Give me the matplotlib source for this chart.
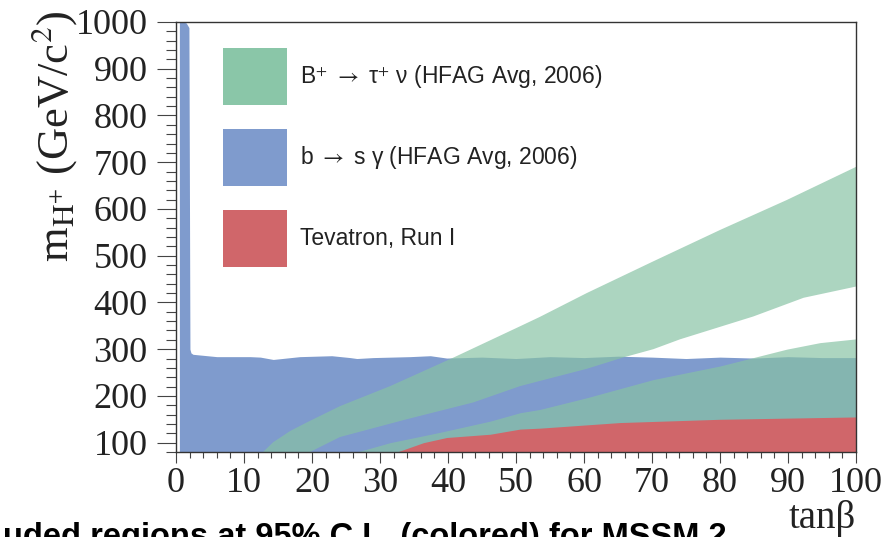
import numpy as np
import matplotlib
matplotlib.use("Agg")
import matplotlib.pyplot as plt
from matplotlib.patches import Patch
from matplotlib.ticker import MultipleLocator

plt.rcParams["mathtext.fontset"] = "stix"

# b -> s gamma excluded region, upper edge (everything below is excluded)
bsg_tb = [0.5, 1.0, 1.5, 1.9, 2.05, 2.2, 2.5, 6.0, 10.9, 12.4, 14.3, 18.2, 22.9, 25.6, 26.6,
          29.0, 34.4, 37.4, 39.8, 45, 50, 55, 60, 65, 70, 75, 80, 85, 90, 95, 100]
bsg_m = [1000, 1000, 998, 988, 300, 292, 289, 284, 284, 283, 278, 284, 286, 282, 280,
         282, 284, 286, 281, 283, 280, 284, 282, 285, 283, 280, 283, 281, 284, 282, 282]

# B+ -> tau nu, upper excluded band: upper edge A, lower edge B
taunu_a_tb = [12.8, 14.3, 16.8, 19.2, 24.1, 31.5, 40.8, 50.6, 53.5, 60.4, 70.2, 80, 89.8, 100]
taunu_a_m = [80, 101, 125, 143, 178, 221, 282, 349, 369, 420, 488, 555, 619, 690]
taunu_b_tb = [19.7, 24.1, 33.9, 43.7, 50.6, 53.5, 60.4, 65.7, 70.2, 74.1, 84.9, 92.3, 100]
taunu_b_m = [80, 112, 150, 186, 221, 232, 258, 282, 300, 321, 370, 410, 434]

# B+ -> tau nu, lower excluded band (below edge C)
taunu_c_tb = [26.6, 31.5, 38.8, 46.2, 50.6, 53.5, 60.4, 70.2, 80, 84.9, 89.8, 94.7, 100]
taunu_c_m = [80, 100, 122, 146, 164, 171, 196, 235, 264, 282, 300, 314, 322]

# Tevatron Run I
tev_tb = [32.5, 36.4, 39.8, 46.2, 50.6, 53.5, 65.3, 80, 100]
tev_m = [80, 100, 111, 118, 129, 131, 143, 150, 155]

labels = ["B$^{+}$ $\\rightarrow$ \u03c4$^{+}$ \u03bd (HFAG Avg, 2006)",
          "b $\\rightarrow$ s \u03b3 (HFAG Avg, 2006)",
          "Tevatron, Run I"]

ymin = 80
blue = "#7f9bcd"
green = "#87c2a4"
red = "#d0666a"

fig = plt.figure(figsize=(8.93, 5.37), dpi=100)
ax = fig.add_axes([176/893, 85/537, 680/893, 430/537])

ax.fill_between(bsg_tb, ymin, bsg_m, color=blue, lw=0)
ax.fill(np.r_[taunu_a_tb, taunu_b_tb[::-1]], np.r_[taunu_a_m, taunu_b_m[::-1]],
        color=green, alpha=0.69, lw=0)
ax.fill_between(taunu_c_tb, ymin, taunu_c_m, color=green, alpha=0.69, lw=0)
ax.fill_between(tev_tb, ymin, tev_m, color=red, lw=0)

ax.set_xlim(0, 100)
ax.set_ylim(ymin, 1000)
ax.xaxis.set_major_locator(MultipleLocator(10))
ax.xaxis.set_minor_locator(MultipleLocator(2))
ax.yaxis.set_major_locator(MultipleLocator(100))
ax.yaxis.set_minor_locator(MultipleLocator(20))

ax.tick_params(axis="y", which="major", direction="out", length=13.5, width=0.8, pad=7, color="#444")
ax.tick_params(axis="y", which="minor", direction="out", length=7, width=0.8, color="#444")
ax.tick_params(axis="x", which="major", direction="out", length=8, width=0.8, pad=3, color="#444")
ax.tick_params(axis="x", which="minor", direction="out", length=4.5, width=0.8, color="#444")
for lab in ax.get_xticklabels() + ax.get_yticklabels():
    lab.set_fontfamily("Liberation Serif")
    lab.set_fontsize(26)
    lab.set_color("#222")
for sp in ax.spines.values():
    sp.set_linewidth(1.0)
    sp.set_color("#333")

ax.set_ylabel(r"m$_{\mathrm{H}^{+}}$ (GeV/c$^{2}$)", fontsize=32, family="Liberation Serif",
              loc="top", color="#222")
ax.yaxis.set_label_coords(-0.143, 1.028)
ax.set_xlabel("tan\u03b2", fontsize=28, family="Liberation Serif", loc="right", color="#222")
ax.xaxis.set_label_coords(1.0, -0.112)
ax.xaxis.label.set_va("top")

handles = [Patch(facecolor="#8ac6a8", lw=0), Patch(facecolor=blue, lw=0), Patch(facecolor=red, lw=0)]
leg = ax.legend(handles, labels, loc="upper left", bbox_to_anchor=(0.069, 0.9395),
                frameon=False, borderpad=0, borderaxespad=0,
                prop={"family": ["Liberation Sans", "DejaVu Sans"], "size": 16.5},
                handlelength=2.79, handleheight=3.454, labelspacing=1.05, handletextpad=0.57)
for t in leg.get_texts():
    t.set_color("#222")

fig.text(0.003, -0.016, "uded regions at 95% C.L. (colored) for MSSM 2",
         fontsize=23.5, fontweight="bold", family="Liberation Sans", va="baseline", ha="left")

fig.savefig("out.png", dpi=100)
